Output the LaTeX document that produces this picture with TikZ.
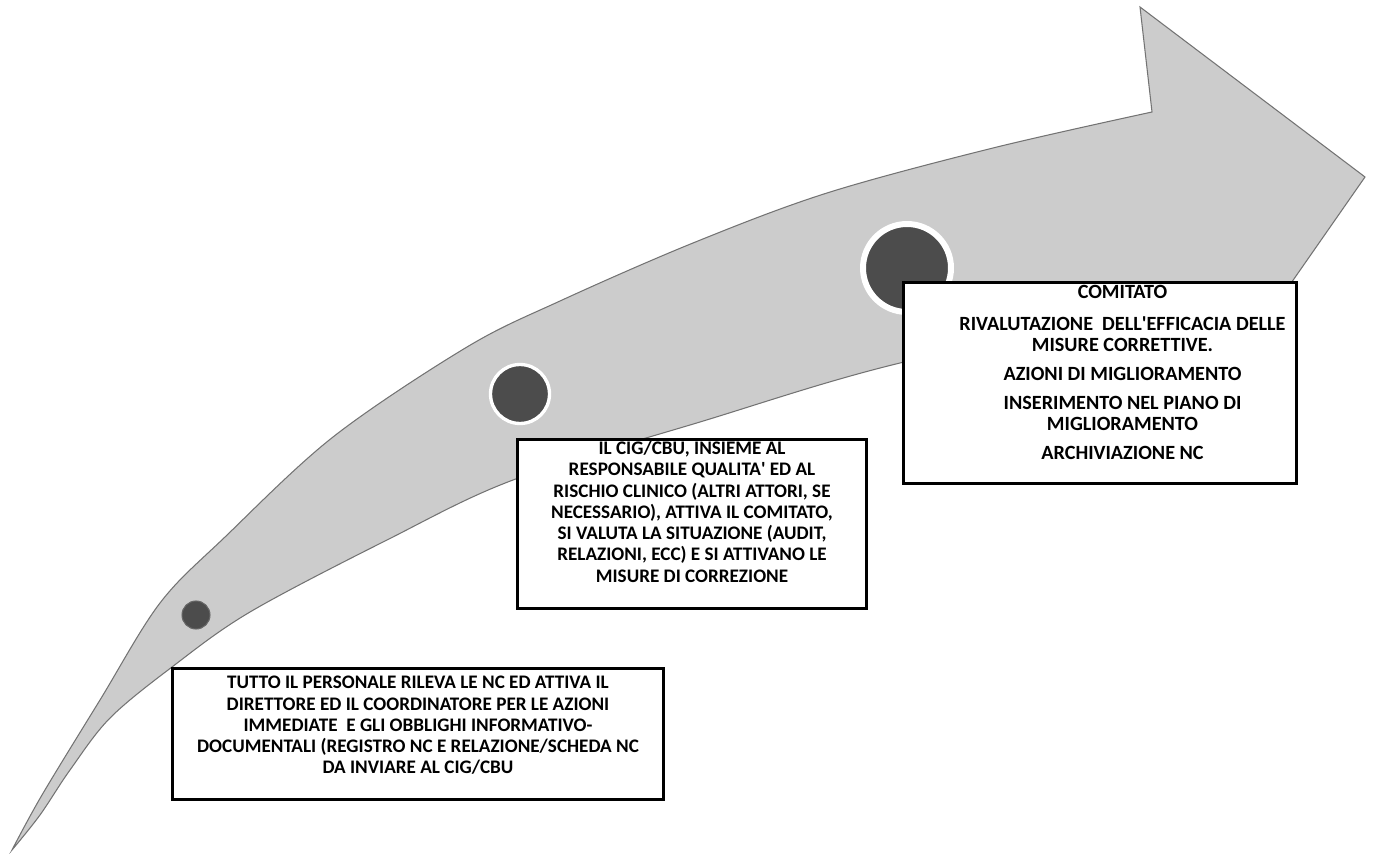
\documentclass[tikz,border=0pt]{standalone}
\usepackage{fontspec}
\setmainfont{Carlito}
\begin{document}
\begin{tikzpicture}[x=0.02cm,y=-0.02cm,
    band/.style={fill=black!20,draw=black!55,line width=0.6pt},
    dot/.style={circle,draw=white,fill=black!70,inner sep=0pt},
    stepbox/.style={draw,fill=white,line width=1.7pt,inner sep=0pt,anchor=north,
      font=\fontsize{10.9}{12.1}\selectfont\bfseries}]
  \useasboundingbox (0,0) rectangle (1376,854);
  \path[band] plot[smooth,tension=0.55] coordinates {(12,850) (42,795) (100,700) (160,603) (225,537) (333,437) (467,347) (560,301) (693,243) (827,193) (993,148) (1152,112)}
    -- (1140,7) -- (1365,177) -- (1204,408) -- (1182,305)
    -- plot[smooth,tension=0.55] coordinates {(1182,305) (900,363) (700,422) (513,480) (387,540) (250,612) (172,667) (110,718) (70,770) (40,815) (12,850)} -- cycle;
  \node[dot,draw=black!60,line width=0.6pt,minimum size=0.56cm] (dot1) at (196,615) {};
  \node[dot,line width=1.9pt,minimum size=1.18cm] (dot2) at (520,394) {};
  \node[dot,line width=3.4pt,minimum size=1.76cm] (dot3) at (907,268) {};
  \node[stepbox] (step1) at (418,667) {\parbox[t][2.62cm][t]{9.84cm}{\vspace*{4.5pt}\centering
    TUTTO IL PERSONALE RILEVA LE NC ED ATTIVA IL\\
    DIRETTORE ED IL COORDINATORE PER LE AZIONI\\
    IMMEDIATE\ \ E GLI OBBLIGHI INFORMATIVO-\\
    DOCUMENTALI (REGISTRO NC E RELAZIONE/SCHEDA NC\\
    DA INVIARE AL CIG/CBU}};
  \node[stepbox] (step2) at (692,438) {\parbox[t][3.38cm][t]{7cm}{\vspace*{1pt}\centering
    IL CIG/CBU, INSIEME AL\\
    RESPONSABILE QUALITA\textquotesingle{} ED AL\\
    RISCHIO CLINICO (ALTRI ATTORI, SE\\
    NECESSARIO), ATTIVA IL COMITATO,\\
    SI VALUTA LA SITUAZIONE (AUDIT,\\
    RELAZIONI, ECC) E SI ATTIVANO LE\\
    MISURE DI CORREZIONE}};
  \node[stepbox,font=\fontsize{11.5}{12}\selectfont\bfseries] (step3) at (1100,281) {\parbox[t][4.02cm][t]{7.88cm}{\vspace*{1.5pt}\centering\leftskip=0.9cm plus 1fil
    COMITATO\\[6pt]
    RIVALUTAZIONE\ \ DELL\textquotesingle EFFICACIA DELLE\\
    MISURE CORRETTIVE.\\[4.6pt]
    AZIONI DI MIGLIORAMENTO\\[4.6pt]
    INSERIMENTO NEL PIANO DI\\
    MIGLIORAMENTO\\[4.6pt]
    ARCHIVIAZIONE NC}};
\end{tikzpicture}
\end{document}
